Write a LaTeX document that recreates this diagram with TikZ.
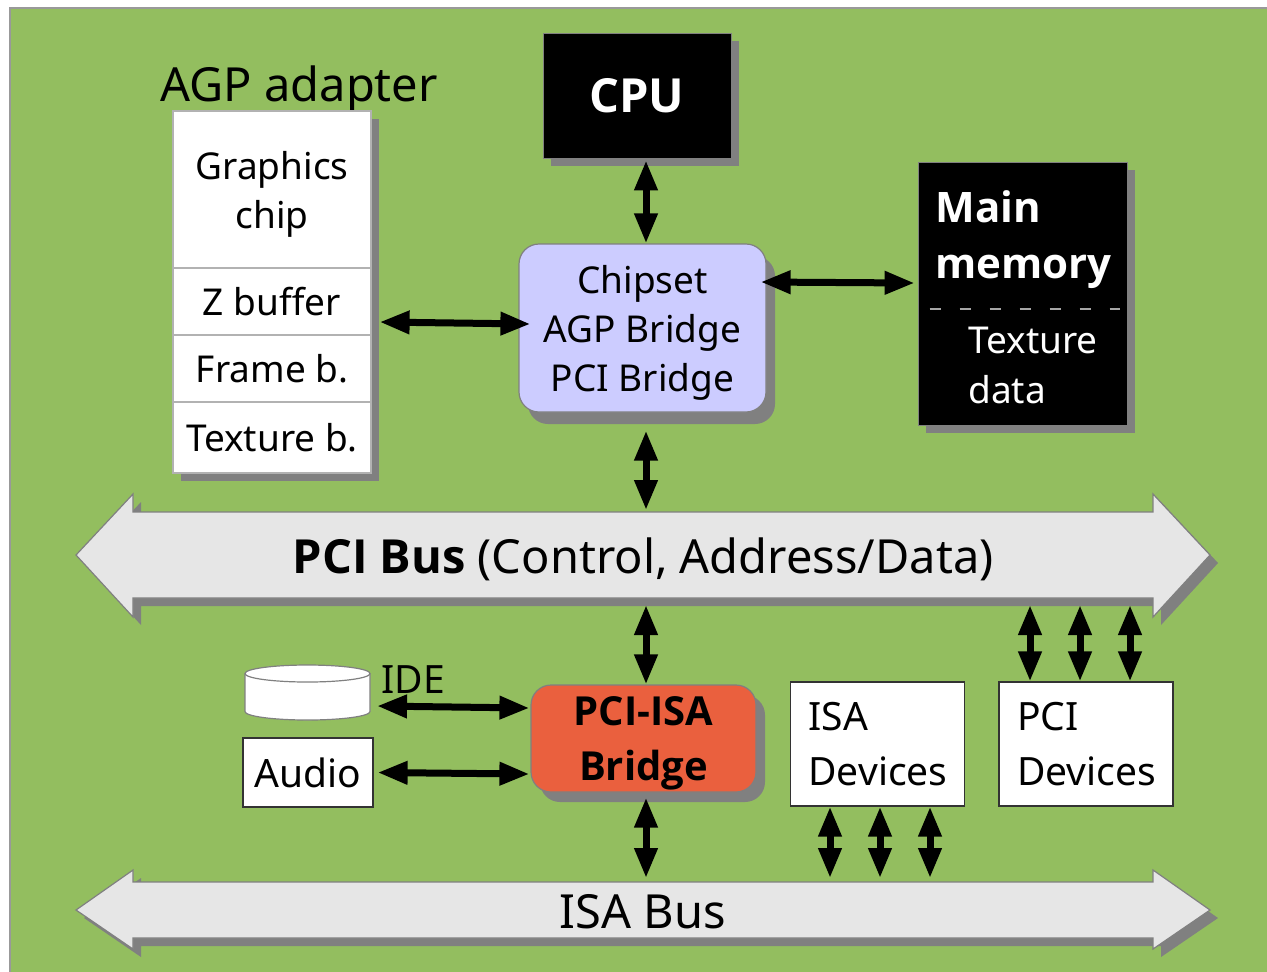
\documentclass[tikz,border=0pt]{standalone}
\usepackage{fontspec}
\setmainfont{Noto Sans}
\newfontfamily\heavyfont{Open Sans}
\usetikzlibrary{arrows.meta,shadows,calc,positioning}
\definecolor{bggreen}{RGB}{147,190,95}
\definecolor{busgray}{RGB}{230,230,230}
\definecolor{chipblue}{RGB}{204,204,255}
\definecolor{bridgered}{RGB}{234,96,62}
\definecolor{shadowgray}{RGB}{128,128,128}
\newcommand\boxfont{\fontsize{18.5}{24.5}\selectfont}
\newcommand\bigfont{\fontsize{23.5}{28}\selectfont}
\newcommand\memfont{\fontsize{21}{28}\selectfont\heavyfont\bfseries}
\newcommand\devfont{\fontsize{19.5}{27.5}\selectfont}
\newcommand\bridgefont{\fontsize{20}{27.5}\selectfont\heavyfont\bfseries}
\newcommand\nodepth[1]{\raisebox{0pt}[\height][0pt]{#1}}

\begin{document}
\begin{tikzpicture}[
x=0.5pt, y=-0.5pt,
boxshadow/.style={
  drop shadow={shadow xshift=4pt, shadow yshift=-4pt, fill=shadowgray, opacity=1}
  },
darkbox/.style={
  draw=shadowgray, fill=black, text=white, inner sep=0pt, boxshadow
  },
cell/.style={
  draw=gray!60, line width=0.6pt, fill=white, inner sep=0pt, minimum width=99pt,
  align=center, font=\boxfont
  },
roundbox/.style={
  draw=shadowgray, line width=0.6pt, rounded corners=10pt, inner sep=0pt, align=center
  },
devbox/.style={
  draw=black!80, line width=0.6pt, fill=white, inner xsep=9pt, inner ysep=0pt,
  minimum width=87pt, minimum height=62pt, text width=69pt, align=left, font=\devfont
  },
memtext/.style={
  anchor=base west, text=white, inner sep=0pt
  },
bus/.style={
  draw=shadowgray, fill=busgray, line width=0.6pt, boxshadow
  },
link/.style={<->, line width=3.5pt},
>={Triangle[length=15pt,width=11pt]}
]
\useasboundingbox (0,0) rectangle (1267,971);
\filldraw[fill=bggreen, draw=gray!80, line width=0.6pt] (10,8) rectangle (1290,990);

\coordinate (axis) at (646,0);
\coordinate (pcihigh) at (643,510);
\coordinate (pcilow) at (643,605);
\coordinate (isahigh) at (643,878);

\node[anchor=base west, font=\bigfont, inner sep=0pt] (agplabel) at (160,101) {AGP adapter};
\node[draw=gray!60, line width=0.6pt, fill=white, boxshadow, minimum width=99pt, minimum height=181pt, inner sep=0pt] (agp) at (272,292) {};
\node[cell, minimum height=78.5pt] (gchip) at (272,189.5) {Graphics\\\nodepth{chip}};
\node[cell, minimum height=33.5pt] (zbuf) at (272,301.5) {Z buffer};
\node[cell, minimum height=33.5pt] (frameb) at (272,368.5) {Frame b.};
\node[cell, minimum height=35.5pt] (texb) at (272,437.5) {Texture b.};

\node[darkbox, minimum width=94pt, minimum height=62.5pt, font=\bigfont\heavyfont\bfseries] (cpu) at (637,95.5) {CPU};

\node[roundbox, fill=chipblue, minimum width=123.5pt, minimum height=84pt, font=\boxfont,
  drop shadow={shadow xshift=4.5pt, shadow yshift=-6pt, fill=shadowgray, opacity=1}] (chipset) at (642.5,328) {Chipset\\AGP Bridge\\\nodepth{PCI Bridge}};

\node[darkbox, minimum width=104.5pt, minimum height=131.5pt] (mainmem) at (1022.5,293.5) {};
\node[memtext, font=\memfont] (mainword) at (935,222) {Main};
\node[memtext, font=\memfont] (memword) at (935,278) {memory};
\draw[gray!70, line width=0.6pt, dash pattern=on 5.5pt off 9.5pt] ($(mainmem.west)+(12,15.5)$) -- ($(mainmem.east)+(-7,15.5)$);
\node[memtext, font=\boxfont] (texword) at (968,353) {Texture};
\node[memtext, font=\boxfont] (dataword) at (968,403) {data};

\filldraw[bus] (76,555) -- (133,494) -- (133,512) -- (1153,512) -- (1153,494) -- (1210,555)
  -- (1153,617) -- (1153,598) -- (133,598) -- (133,617) -- cycle;
\node[anchor=base, font=\bigfont] (pcibus) at (643,573) {{\heavyfont\bfseries PCI Bus} (Control, Address/Data)};

\filldraw[bus] (76,910) -- (133,870) -- (133,882) -- (1153,882) -- (1153,870) -- (1210,910)
  -- (1153,949) -- (1153,938) -- (133,938) -- (133,949) -- cycle;
\node[anchor=base, font=\bigfont] (isabus) at (643,928) {ISA Bus};

\node[roundbox, fill=bridgered, minimum width=112.5pt, minimum height=53.5pt, font=\bridgefont,
  drop shadow={shadow xshift=4.5pt, shadow yshift=-5pt, fill=shadowgray, opacity=1}] (bridge) at (643.5,738.5) {PCI-ISA\\\nodepth{Bridge}};

\filldraw[fill=white, draw=gray, line width=0.6pt] (245,673.5) -- (245,711.5)
  arc[start angle=180, end angle=360, x radius=31.25pt, y radius=4.25pt] -- (370,673.5);
\filldraw[fill=white, draw=gray, line width=0.6pt] (307.5,673.5) ellipse [x radius=31.25pt, y radius=4.25pt];
\coordinate (disk) at (370,706);
\node[anchor=base west, font=\devfont, inner sep=0pt] (idelabel) at (381,693) {IDE};

\node[draw=black!80, line width=0.6pt, fill=white, minimum width=65pt, minimum height=34.5pt, inner sep=0pt, font=\devfont] (audio) at (308,772.5) {Audio};

\node[devbox] (isadev) at (877.5,744) {ISA\\Devices};
\node[devbox] (pcidev) at (1086,744) {PCI\\Devices};

\draw[link] ($(cpu.south -| axis)+(0,2)$) -- (chipset.north -| axis);
\draw[link] ($(chipset.east)+(-6,-46)$) -- ($(mainmem.west)+(-3,-10.5)$);
\draw[link] ($(agp.east)+(8,30)$) -- ($(chipset.west)+(12,-4)$);
\draw[link] ($(chipset.south -| axis)+(0,18)$) -- (pcihigh -| axis);
\draw[link] (pcilow -| axis) -- (bridge.north -| axis);
\foreach \px in {1030,1080,1130}
  \draw[link] (pcilow -| \px,0) -- (pcidev.north -| \px,0);
\draw[link] ($(disk)+(7,0)$) -- ($(bridge.west)+(-1,-30.5)$);
\draw[link] ($(audio.east)+(4,0)$) -- ($(bridge.west)+(-1,35.5)$);
\draw[link] ($(bridge.south -| axis)+(0,5)$) -- (isahigh -| axis);
\foreach \px in {830,880,930}
  \draw[link] (isadev.south -| \px,0) -- (isahigh -| \px,0);
\end{tikzpicture}
\end{document}
